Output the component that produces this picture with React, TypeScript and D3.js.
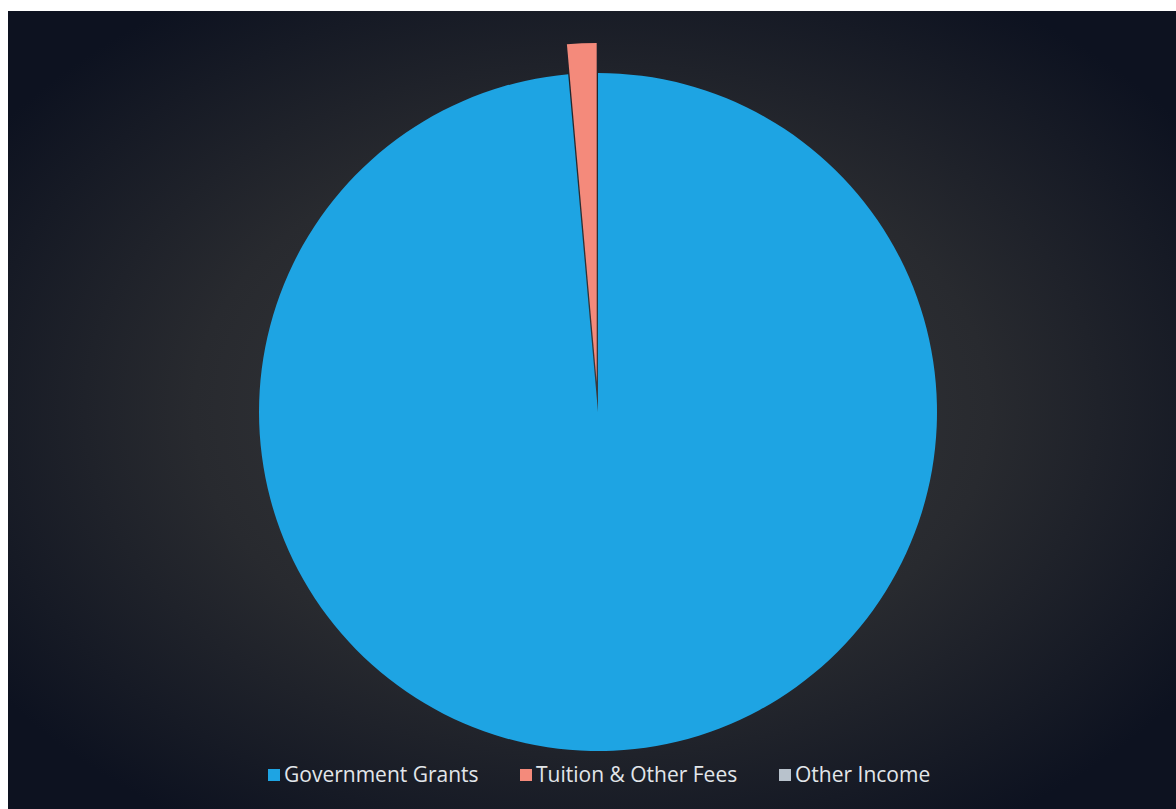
import React from "react";
import * as d3 from "d3";

const categories = ["Government Grants", "Tuition & Other Fees", "Other Income"];
const values = [98.6, 1.4, 0];
const colors = ["#1ea4e3", "#f48a7b", "#b8c2cc"];
const explode = [0, 30, 0];

const W = 1176;
const H = 809;

export default function App() {
  const cx = 598;
  const cy = 412;
  const r = 339;
  const pie = d3.pie<number>().sort(null).value((d) => d)(values);
  const arc = d3.arc<d3.PieArcDatum<number>>().innerRadius(0).outerRadius(r);
  const legendX = [268, 520, 779];
  return (
    <svg width={W} height={H} style={{ position: "absolute", left: 0, top: 0 }}>
      <defs>
        <radialGradient id="bg" cx="50%" cy="50%" r="62%">
          <stop offset="0%" stopColor="#3a3b3e" />
          <stop offset="55%" stopColor="#282a2f" />
          <stop offset="100%" stopColor="#0d1220" />
        </radialGradient>
      </defs>
      <rect x={0} y={0} width={W} height={H} fill="#ffffff" />
      <rect x={8} y={11} width={W - 8} height={H - 11} fill="url(#bg)" />
      <g transform={`translate(${cx},${cy})`}>
        {pie.map((p, i) => {
          if (p.endAngle - p.startAngle <= 0) return null;
          const mid = (p.startAngle + p.endAngle) / 2;
          const dx = Math.sin(mid) * explode[i];
          const dy = -Math.cos(mid) * explode[i];
          return (
            <path
              key={i}
              d={arc(p) || ""}
              fill={colors[i]}
              transform={`translate(${dx},${dy})`}
            />
          );
        })}
      </g>
      <g fontFamily="'Open Sans', sans-serif" fontSize={21} fill="#e2e6ea">
        {categories.map((c, i) => (
          <g key={c} transform={`translate(${legendX[i]},775)`}>
            <rect x={0} y={-6} width={12} height={12} fill={colors[i]} />
            <text x={16} y={1} dominantBaseline="middle">
              {c}
            </text>
          </g>
        ))}
      </g>
    </svg>
  );
}
